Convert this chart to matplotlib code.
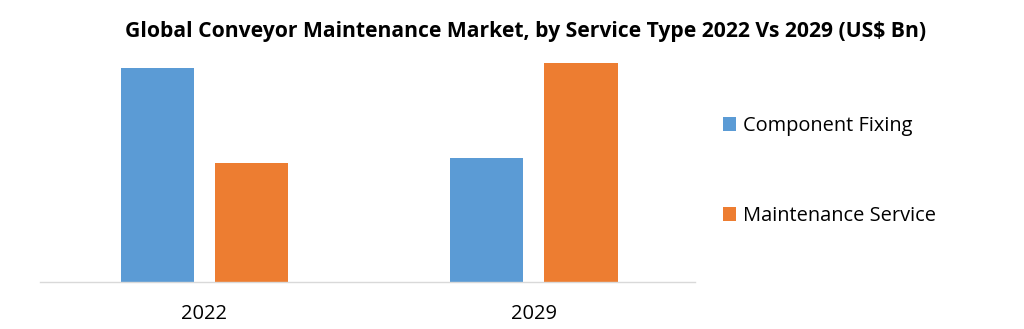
import matplotlib.pyplot as plt
import numpy as np

plt.rcParams['font.family'] = ['Open Sans', 'DejaVu Sans']

years = ["2022", "2029"]
series = ["Component Fixing", "Maintenance Service"]
component_fixing = [2.14, 1.24]
maintenance_service = [1.19, 2.19]

COLORS = ["#5B9BD5", "#ED7D31"]

fig = plt.figure(figsize=(10.24, 3.29), dpi=100)
ax = fig.add_axes([40 / 1024, 1 - 282 / 329, 655 / 1024, 232 / 329])

x = np.arange(len(years))
w = 0.222
off = 0.143
ax.bar(x - off, component_fixing, w, color=COLORS[0], label=series[0])
ax.bar(x + off, maintenance_service, w, color=COLORS[1], label=series[1])

ax.set_xlim(-0.499, 1.489)
ax.set_ylim(0, 2.32)
ax.set_yticks([])
ax.set_xticks(x)
ax.set_xticklabels(years, fontsize=14.5)
ax.tick_params(axis="x", length=0, pad=16)
for s in ["top", "right", "left"]:
    ax.spines[s].set_visible(False)
ax.spines["bottom"].set_color("#d9d9d9")
ax.spines["bottom"].set_linewidth(1)

fig.text(0.513, 0.905, "Global Conveyor Maintenance Market, by Service Type 2022 Vs 2029 (US$ Bn)",
         ha="center", va="center", fontsize=15.2, fontweight="bold")

leg = fig.legend(loc="center left", bbox_to_anchor=(705 / 1024, 1 - 171 / 329),
                 frameon=False, fontsize=14.4, handlelength=0.65, handleheight=0.65,
                 handletextpad=0.35, labelspacing=3.5)

fig.savefig("out.png", dpi=100)
